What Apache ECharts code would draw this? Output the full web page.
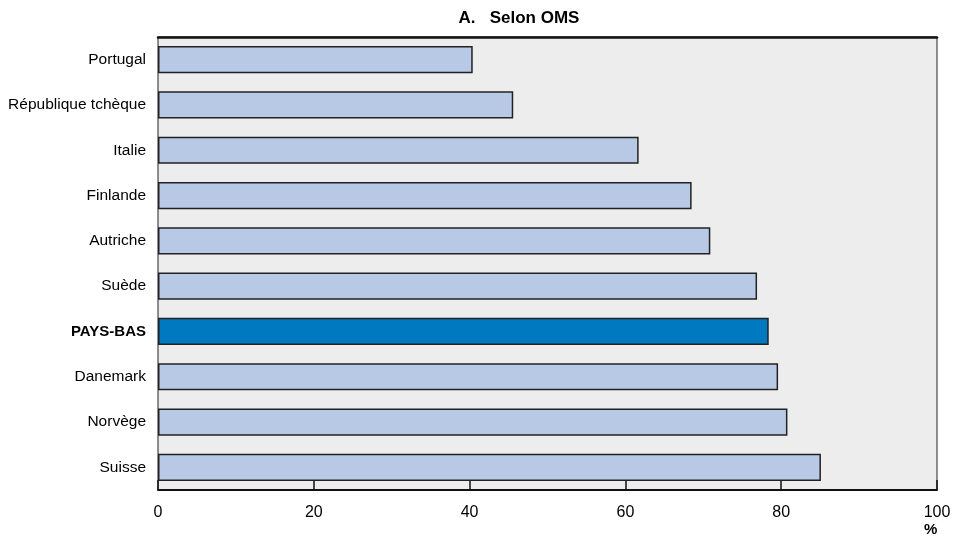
<!DOCTYPE html>
<html>
<head>
<meta charset="utf-8">
<script src="https://cdn.jsdelivr.net/npm/echarts@6/dist/echarts.min.js"></script>
<style>
  html, body { margin: 0; padding: 0; background: #fff; }
  #chart { width: 958px; height: 540px; }
</style>
</head>
<body>
<div id="chart"></div>
<script>
var pays = ['Portugal', 'République tchèque', 'Italie', 'Finlande', 'Autriche', 'Suède', 'PAYS-BAS', 'Danemark', 'Norvège', 'Suisse'];
var valeurs = [40.4, 45.6, 61.7, 68.5, 70.9, 76.9, 78.4, 79.6, 80.8, 85.1];
var surligne = 'PAYS-BAS';

var chart = echarts.init(document.getElementById('chart'));
var police = '"Liberation Sans", Arial, sans-serif';

var option = {
  animation: false,
  textStyle: { fontFamily: police },
  title: {
    text: 'A.   Selon OMS',
    left: 514,
    textAlign: 'center',
    top: 5,
    textStyle: { fontSize: 17, fontWeight: 'bold', color: '#000', fontFamily: police }
  },
  grid: {
    left: 158, right: 21, top: 37, bottom: 50,
    show: true,
    backgroundColor: '#ededed',
    borderColor: '#222',
    borderWidth: 1
  },
  xAxis: [{
    type: 'value',
    min: 0, max: 100, interval: 20,
    axisLine: { show: true, lineStyle: { color: '#111', width: 2 } },
    axisTick: { show: true, inside: true, length: 10, lineStyle: { color: '#111', width: 1.5 } },
    axisLabel: { color: '#000', fontSize: 16, margin: 15, fontFamily: police },
    splitLine: { show: false }
  }, {
    type: 'value', position: 'top',
    min: 0, max: 100,
    axisLine: { show: true, lineStyle: { color: '#111', width: 2.5 } },
    axisTick: { show: false }, axisLabel: { show: false }, splitLine: { show: false }
  }],
  yAxis: {
    type: 'category',
    inverse: true,
    data: pays,
    axisLine: { show: false },
    axisTick: { show: false },
    axisLabel: {
      color: '#000', fontSize: 15.5, margin: 12, fontFamily: police,
      formatter: function (v) { return v === surligne ? '{b|' + v + '}' : v; },
      rich: { b: { fontWeight: 'bold', fontSize: 15, fontFamily: police, color: '#000' } }
    }
  },
  series: [{
    type: 'bar',
    barCategoryGap: '40%',
    data: valeurs.map(function (v, i) {
      return {
        value: v,
        itemStyle: { color: pays[i] === surligne ? '#0079c1' : '#b8c9e6' }
      };
    }),
    itemStyle: { borderColor: '#222', borderWidth: 1.5 }
  }],
  graphic: [{
    type: 'text',
    left: 924, top: 522,
    style: { text: '%', fontSize: 15, fontWeight: 'bold', fill: '#000', fontFamily: police }
  }]
};
chart.setOption(option);
</script>
</body>
</html>
